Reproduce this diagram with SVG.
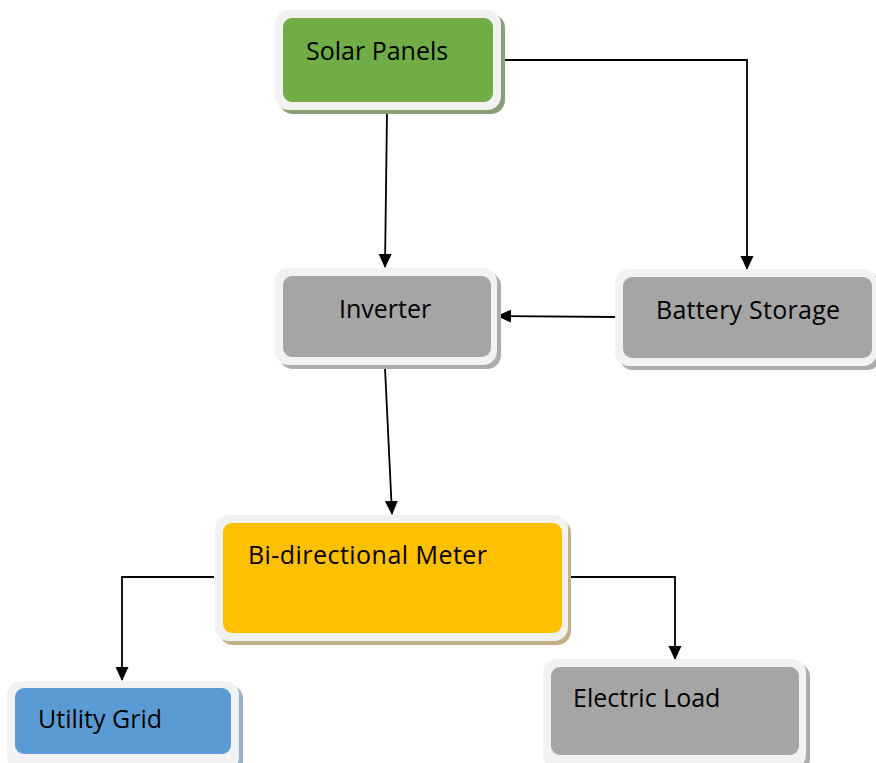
<svg xmlns="http://www.w3.org/2000/svg" width="876" height="763" viewBox="0 0 876 763">
<defs>
<style>
.frame{fill:#f2f2f2}
.lbl{font-family:"Open Sans","Liberation Sans",sans-serif;font-size:25px;fill:#000}
.conn{fill:none;stroke:#000;stroke-width:1.8}
</style>
<marker id="arr" markerWidth="14" markerHeight="14" refX="13" refY="7" orient="auto" markerUnits="userSpaceOnUse">
<path d="M0,0.5 L14,7 L0,13.5 Z" fill="#000"/>
</marker>
</defs>
<rect width="876" height="763" fill="#fff"/>

<g id="connectors">
<path class="conn" d="M387,112 L385,267" marker-end="url(#arr)"/>
<path class="conn" d="M502,60 L747,60 L747,269" marker-end="url(#arr)"/>
<path class="conn" d="M615,317 L498,316" marker-end="url(#arr)"/>
<path class="conn" d="M385,368 L392,514" marker-end="url(#arr)"/>
<path class="conn" d="M214,577 L122,577 L122,680" marker-end="url(#arr)"/>
<path class="conn" d="M570,577 L675,577 L675,659" marker-end="url(#arr)"/>
</g>

<g id="solar-panels">
<rect x="279" y="14" width="226" height="100" rx="14" fill="#8a9f79"/>
<rect class="frame" x="275" y="10" width="226" height="100" rx="14"/>
<rect x="283" y="18" width="210" height="84" rx="9" fill="#70ad47"/>
<text class="lbl" x="306" y="60">Solar Panels</text>
</g>

<g id="inverter">
<rect x="279" y="272" width="222" height="97" rx="14" fill="#acacac"/>
<rect class="frame" x="275" y="268" width="222" height="97" rx="14"/>
<rect x="283" y="276" width="208" height="81" rx="9" fill="#a5a5a5"/>
<text class="lbl" x="339" y="318">Inverter</text>
</g>

<g id="battery-storage">
<rect x="619" y="273" width="262" height="97" rx="14" fill="#acacac"/>
<rect class="frame" x="615" y="269" width="262" height="97" rx="14"/>
<rect x="623" y="277" width="249" height="81" rx="9" fill="#a5a5a5"/>
<text class="lbl" x="656" y="319" textLength="184">Battery Storage</text>
</g>

<g id="bi-directional-meter">
<rect x="219" y="519" width="352" height="126" rx="14" fill="#c4b083"/>
<rect class="frame" x="215" y="515" width="353" height="126" rx="14"/>
<rect x="223" y="523" width="339" height="110" rx="9" fill="#ffc000"/>
<text class="lbl" x="248" y="564" textLength="239">Bi-directional Meter</text>
</g>

<g id="utility-grid">
<rect x="11" y="685" width="232" height="90" rx="14" fill="#98aecb"/>
<rect class="frame" x="7" y="681" width="232" height="90" rx="14"/>
<rect x="15" y="688" width="216" height="66" rx="9" fill="#5b9bd5"/>
<text class="lbl" x="38" y="728">Utility Grid</text>
</g>

<g id="electric-load">
<rect x="547" y="663" width="263" height="110" rx="14" fill="#acacac"/>
<rect class="frame" x="543" y="659" width="263" height="110" rx="14"/>
<rect x="551" y="667" width="248" height="88" rx="9" fill="#a5a5a5"/>
<text class="lbl" x="573" y="707">Electric Load</text>
</g>
</svg>
